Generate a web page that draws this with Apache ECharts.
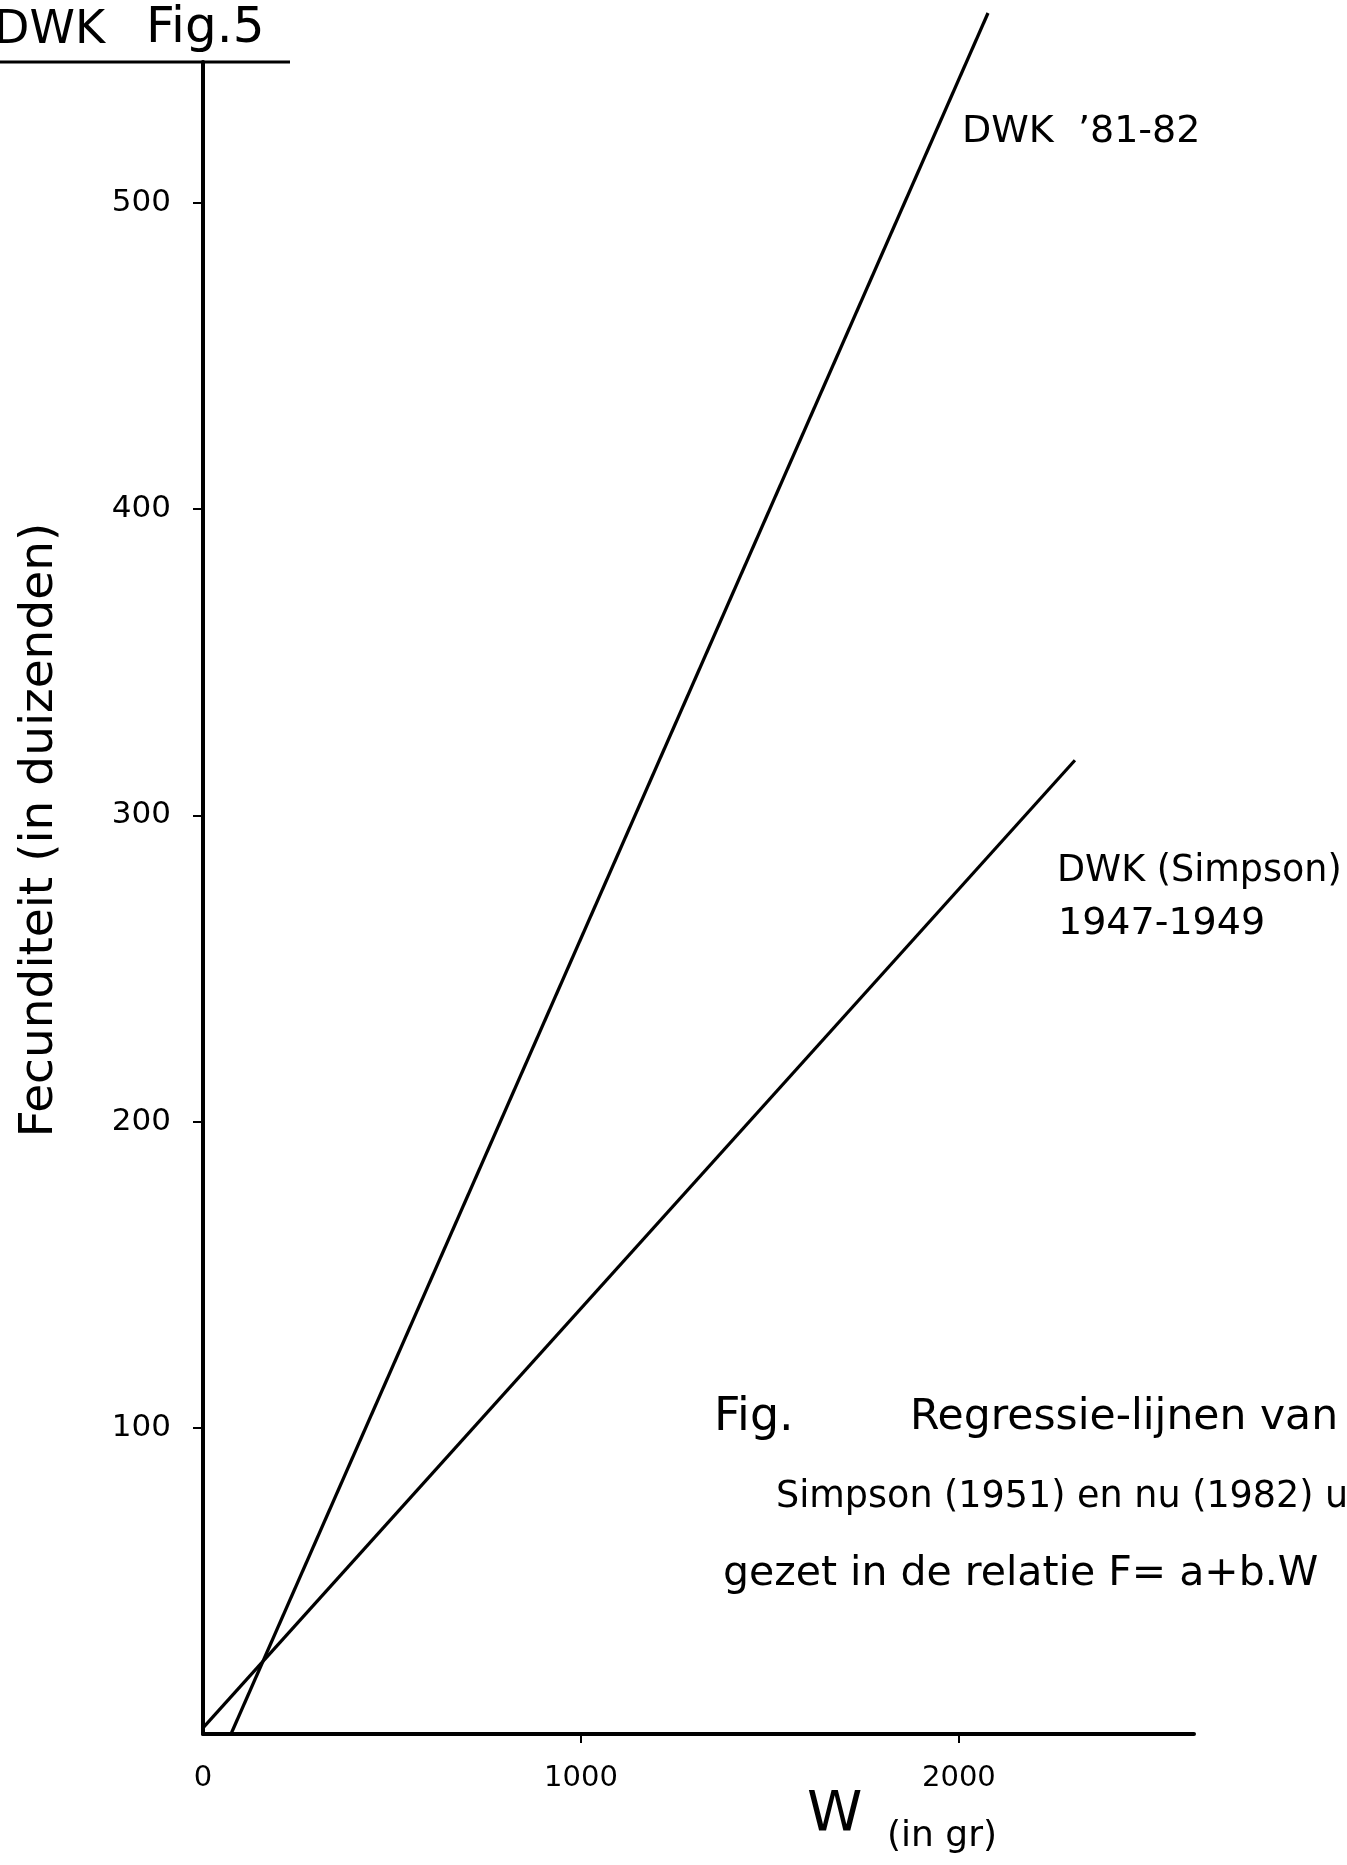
<!DOCTYPE html>
<html>
<head>
<meta charset="utf-8">
<script src="https://cdn.jsdelivr.net/npm/echarts@6/dist/echarts.min.js"></script>
<style>html,body{margin:0;padding:0;background:#fff;}#c{width:1347px;height:1865px;}</style>
</head>
<body>
<div id="c"></div>
<script>
// Data
const xTickLabels = [0, 1000, 2000];
const yTickLabels = [100, 200, 300, 400, 500];
const dwk8182X = [74, 2077];
const dwk8182Y = [0, 562];
const simpsonX = [0, 2307];
const simpsonY = [2, 318];

const FONT = '"DejaVu Sans", sans-serif';
const chart = echarts.init(document.getElementById('c'), null, {renderer: 'canvas'});

function txt(text, x, y, size, extra) {
  return Object.assign({
    type: 'text', x: x, y: y,
    style: {text: text, fontSize: size, fontFamily: FONT, fill: '#000', textAlign: 'left', textVerticalAlign: 'middle'}
  }, extra || {});
}

const option = {
  backgroundColor: '#fff',
  animation: false,
  grid: {left: 203, top: 62, width: 991, height: 1672, containLabel: false},
  xAxis: {
    type: 'value', min: 0, max: 2622, interval: 1000,
    axisLine: {show: true, lineStyle: {color: '#000', width: 4}},
    axisTick: {show: true, length: 9, lineStyle: {color: '#000', width: 2}, customValues: [1000, 2000]},
    axisLabel: {color: '#000', fontSize: 29, fontFamily: FONT, margin: 30, customValues: xTickLabels,
      formatter: v => String(v)},
    splitLine: {show: false}
  },
  yAxis: {
    type: 'value', min: 0, max: 546, interval: 100,
    axisLine: {show: true, lineStyle: {color: '#000', width: 4}},
    axisTick: {show: true, length: 10, lineStyle: {color: '#000', width: 2}, customValues: yTickLabels},
    axisLabel: {color: '#000', fontSize: 31, fontFamily: FONT, margin: 32, customValues: yTickLabels,
      formatter: v => String(v)},
    splitLine: {show: false}
  },
  series: [
    {
      type: 'line', clip: false, symbol: 'none',
      data: dwk8182X.map((x, i) => [x, dwk8182Y[i]]),
      lineStyle: {color: '#000', width: 3.2}
    },
    {
      type: 'line', clip: false, symbol: 'none',
      data: simpsonX.map((x, i) => [x, simpsonY[i]]),
      lineStyle: {color: '#000', width: 3.2}
    }
  ],
  graphic: [
    txt('DWK', -6, 31, 46),
    txt('Fig.5', 146, 29, 50),
    {type: 'line', shape: {x1: 0, y1: 62, x2: 290, y2: 62}, style: {stroke: '#000', lineWidth: 3}},
    txt('DWK  \u201981-82', 962, 132, 38),
    txt('DWK (Simpson)', 1057, 872, 36.5),
    txt('1947-1949', 1058, 924, 38),
    txt('Fig.', 714, 1418, 46),
    txt('Regressie-lijnen van', 910, 1418, 42.5),
    txt('Simpson (1951) en nu (1982) u', 776, 1498, 36.5),
    txt('gezet in de relatie F= a+b.W', 723, 1574, 41),
    txt('W', 807, 1815, 56),
    txt('(in gr)', 887, 1837, 36),
    txt('', 0, 0, 10, {rotation: Math.PI / 2, x: 40, y: 830, style: {text: 'Fecunditeit (in duizenden)', fontSize: 47, fontFamily: FONT, fill: '#000', textAlign: 'center', textVerticalAlign: 'middle'}})
  ]
};
chart.setOption(option);
</script>
</body>
</html>
